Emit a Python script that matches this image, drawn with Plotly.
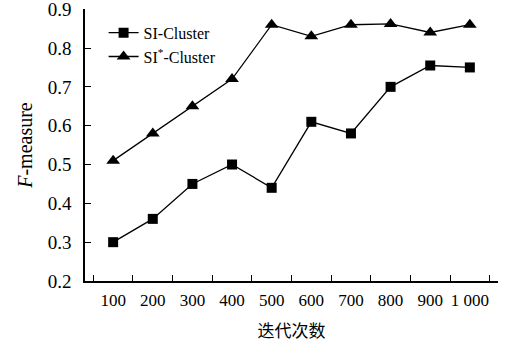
import plotly.graph_objects as go

categories = ["100", "200", "300", "400", "500", "600", "700", "800", "900", "1 000"]
si_cluster = [0.30, 0.36, 0.45, 0.50, 0.44, 0.61, 0.58, 0.70, 0.755, 0.75]
si_star_cluster = [0.51, 0.58, 0.65, 0.72, 0.86, 0.83, 0.86, 0.862, 0.84, 0.86]
y_ticks = [0.2, 0.3, 0.4, 0.5, 0.6, 0.7, 0.8, 0.9]

font_serif = "Liberation Serif, Times New Roman, serif"

fig = go.Figure()
fig.add_trace(go.Scatter(
    x=categories, y=si_cluster, mode="lines+markers", name="SI-Cluster",
    line=dict(color="black", width=1.3),
    marker=dict(symbol="square", size=10, color="black"),
))
fig.add_trace(go.Scatter(
    x=categories, y=si_star_cluster, mode="lines+markers", name="SI<sup>*</sup>-Cluster",
    line=dict(color="black", width=1.3),
    marker=dict(symbol="triangle-up", size=12, color="black"),
))

fig.update_layout(
    width=515, height=345,
    margin=dict(l=85, r=17, t=9, b=64, autoexpand=False),
    paper_bgcolor="white", plot_bgcolor="white",
    font=dict(family=font_serif, size=17, color="black"),
    showlegend=True,
    legend=dict(x=0.045, y=0.975, xanchor="left", yanchor="top",
                bgcolor="rgba(0,0,0,0)", font=dict(size=16, family=font_serif),
                tracegroupgap=0, itemwidth=30),
    xaxis=dict(
        type="category", tickson="boundaries", ticks="inside", ticklen=6,
        tickcolor="black", tickwidth=1.3, tickangle=0, automargin=False,
        ticklabeloverflow="allow", ticklabelstandoff=3,
        showline=True, linecolor="black", linewidth=1.5, showgrid=False,
        zeroline=False,
        title=dict(text="迭代次数", font=dict(family="Noto Sans CJK SC", size=17), standoff=16),
        tickfont=dict(size=17, family=font_serif),
    ),
    yaxis=dict(
        range=[0.2, 0.9005], tickvals=y_ticks, ticktext=[f"{v:.1f}" for v in y_ticks],
        ticks="inside", ticklen=6, tickcolor="black", tickwidth=1.3, automargin=False,
        ticklabeloverflow="allow",
        showline=True, linecolor="black", linewidth=1.5, showgrid=False, zeroline=False,
        ticklabelstandoff=8,
        title=dict(text="<i>F</i>-measure", font=dict(size=20, family=font_serif), standoff=10),
        tickfont=dict(size=19, family=font_serif),
    ),
)

fig.write_html("out.html", config={"displayModeBar": False},
               post_script="document.body.style.margin='0';document.body.style.overflow='hidden';")
